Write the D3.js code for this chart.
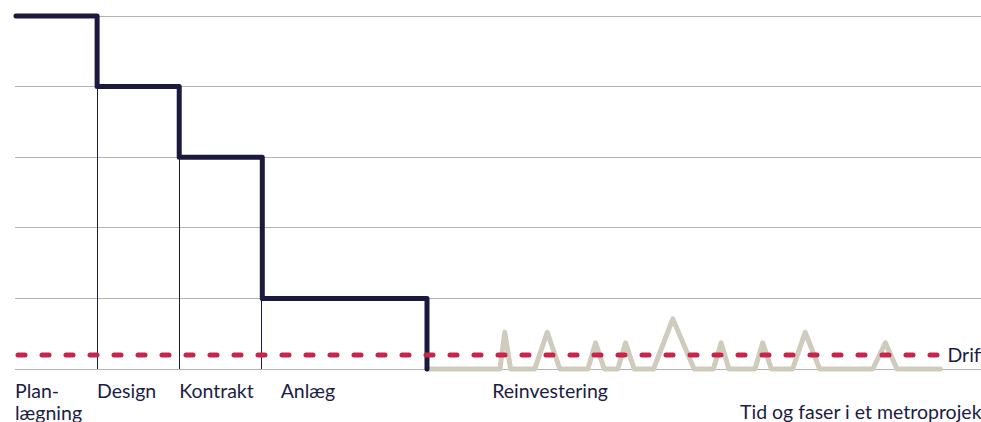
<!DOCTYPE html>
<html><head><meta charset="utf-8">
<script src="https://cdn.jsdelivr.net/npm/d3@7"></script>
<style>
html,body{margin:0;padding:0;background:#fff;}
svg{display:block;}
text{font-family:Lato, "Open Sans", sans-serif;fill:#1c1c44;}
</style></head>
<body>
<svg id="chart" width="981" height="422"></svg>
<script>
// Data (time in arbitrary units 0-100, cost level 0-5)
const gridLevels = [0, 1, 2, 3, 4, 5];
const stepTimes  = [0.1, 8.5, 17.0, 25.6, 42.65];   // phase boundaries
const stepLevels = [5, 4, 3, 1, 0];                  // investment level per phase
const driftLevel = 0.2;
const driftRange = [0, 95.8];
const reinvTimes  = [42.65, 50.2, 50.7, 51.3, 53.8, 55.1, 56.4, 59.3, 60.1, 61.0, 62.4, 63.2, 64.1, 66.1, 68.1, 70.3, 72.3, 73.1, 73.9, 76.6, 77.4, 78.3, 80.5, 81.8, 83.3, 88.8, 90.1, 91.3, 95.8];
const reinvLevels = [0, 0, 0.52, 0, 0, 0.52, 0, 0, 0.37, 0, 0, 0.37, 0, 0, 0.71, 0, 0, 0.37, 0, 0, 0.37, 0, 0, 0.52, 0, 0, 0.37, 0, 0];
const phaseLabels = [["Plan-", "lægning"], ["Design"], ["Kontrakt"], ["Anlæg"], ["Reinvestering"]];
const phaseLabelTimes = [0, 8.5, 17.0, 27.5, 49.4];
const dividerTimes = [8.5, 17.0, 25.5];
const dividerTops  = [4, 3, 1];
const driftLabel = "Drift";
const axisTitle = "Tid og faser i et metroprojekt";

const W = 981, H = 422;
const svg = d3.select("#chart");
const x = d3.scaleLinear().domain([0, 100]).range([15, 981]);
const y = d3.scaleLinear().domain([0, 5]).range([369, 16]);

const navy = "#1b1a3e", red = "#c8254a", beige = "#cfccbe", grid = "#b3b3b3";

// gridlines
svg.append("g").selectAll("line").data(gridLevels).join("line")
  .attr("x1", x(0)).attr("x2", W)
  .attr("y1", d => y(d)).attr("y2", d => y(d))
  .attr("stroke", grid).attr("stroke-width", 1).attr("shape-rendering", "crispEdges");

// thin dividers
svg.append("g").selectAll("line").data(dividerTimes).join("line")
  .attr("x1", d => Math.round(x(d)) + 0.5).attr("x2", d => Math.round(x(d)) + 0.5)
  .attr("y1", (d, i) => y(dividerTops[i])).attr("y2", y(0))
  .attr("stroke", navy).attr("stroke-width", 1);

// reinvestment line
const reinv = reinvTimes.map((t, i) => [t, reinvLevels[i]]);
svg.append("path").datum(reinv)
  .attr("d", d3.line().x(d => x(d[0])).y(d => y(d[1])))
  .attr("fill", "none").attr("stroke", beige).attr("stroke-width", 5)
  .attr("stroke-linejoin", "round").attr("stroke-linecap", "round");

// step line
const steps = stepTimes.map((t, i) => [t, stepLevels[i]]);
svg.append("path").datum(steps)
  .attr("d", d3.line().x(d => x(d[0])).y(d => y(d[1])).curve(d3.curveStepAfter))
  .attr("fill", "none").attr("stroke", navy).attr("stroke-width", 5)
  .attr("stroke-linejoin", "round").attr("stroke-linecap", "round");

// drift dashed line
svg.append("line")
  .attr("x1", x(driftRange[0]) + 3).attr("x2", x(driftRange[1]))
  .attr("y1", y(driftLevel)).attr("y2", y(driftLevel))
  .attr("stroke", red).attr("stroke-width", 5)
  .attr("stroke-dasharray", "7,17").attr("stroke-linecap", "round");

svg.append("text").attr("x", x(driftRange[1]) + 7).attr("y", y(driftLevel) + 7)
  .attr("font-size", 19.5).text(driftLabel);

// phase labels
const lab = svg.append("g").selectAll("text").data(phaseLabels).join("text")
  .attr("x", (d, i) => x(phaseLabelTimes[i]))
  .attr("y", 398).attr("font-size", 19.5);
lab.selectAll("tspan").data(d => d).join("tspan")
  .attr("x", function() { return d3.select(this.parentNode).attr("x"); })
  .attr("dy", (d, i) => i === 0 ? 0 : 22)
  .text(d => d);

svg.append("text").attr("x", 740).attr("y", 419).attr("font-size", 19.5).text(axisTitle);
</script>
</body></html>
